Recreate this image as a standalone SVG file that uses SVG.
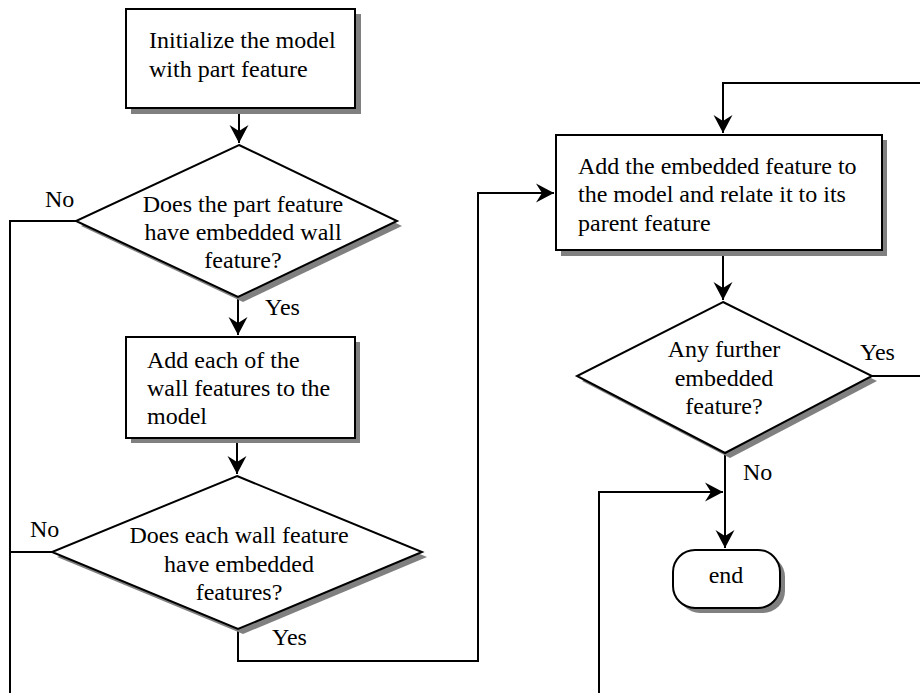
<svg xmlns="http://www.w3.org/2000/svg" width="920" height="693" viewBox="0 0 920 693">
<style>
  .shape { fill: #ffffff; stroke: #000000; stroke-width: 2; }
  .shadow { fill: #808080; stroke: none; }
  .conn { fill: none; stroke: #000000; stroke-width: 2; }
  text { font-family: 'Liberation Serif', 'Times New Roman', 'DejaVu Serif', serif; font-size: 24px; fill: #000000; }
  .mid { text-anchor: middle; }
</style>
<defs>
  <marker id="arrow" markerUnits="userSpaceOnUse" markerWidth="24" markerHeight="24" viewBox="-20 -12 22 24" refX="0" refY="0" orient="auto">
    <path d="M0,0 L-18,-9.5 L-12,0 L-18,9.5 Z" fill="#000000"/>
  </marker>
</defs>
<rect width="920" height="693" fill="#ffffff"/>

<g id="connectors">
  <path class="conn" d="M239,108 L239,143" marker-end="url(#arrow)"/>
  <path class="conn" d="M238,297 L238,335" marker-end="url(#arrow)"/>
  <path class="conn" d="M237,438 L237,474" marker-end="url(#arrow)"/>
  <path class="conn" d="M76,221 L10,221 L10,693"/>
  <path class="conn" d="M52,552 L10,552"/>
  <path class="conn" d="M238,629 L238,661 L478,661 L478,193 L554,193" marker-end="url(#arrow)"/>
  <path class="conn" d="M920,83 L723,83 L723,133" marker-end="url(#arrow)"/>
  <path class="conn" d="M723,250 L723,300" marker-end="url(#arrow)"/>
  <path class="conn" d="M872,376 L920,376"/>
  <path class="conn" d="M725,453 L725,548" marker-end="url(#arrow)"/>
  <path class="conn" d="M599,693 L599,492 L723,492" marker-end="url(#arrow)"/>
</g>

<g id="labels">
  <text x="45" y="207">No</text>
  <text x="265" y="315">Yes</text>
  <text x="30" y="537">No</text>
  <text x="272" y="645">Yes</text>
  <text x="860" y="360">Yes</text>
  <text x="743" y="480">No</text>
</g>

<g id="init">
  <rect class="shadow" x="131" y="14" width="230" height="100"/>
  <rect class="shape" x="126" y="9" width="229" height="99"/>
  <text x="149" y="48">Initialize the model</text>
  <text x="149" y="77">with part feature</text>
</g>

<g id="decision1">
  <polygon class="shadow" points="244,150 402,226 243,302 81,226"/>
  <polygon class="shape" points="239,145 397,221 238,297 76,221"/>
  <text class="mid" x="243" y="212">Does the part feature</text>
  <text class="mid" x="243" y="240">have embedded wall</text>
  <text class="mid" x="243" y="268">feature?</text>
</g>

<g id="addwalls">
  <rect class="shadow" x="131" y="342" width="229" height="101"/>
  <rect class="shape" x="126" y="337" width="229" height="101"/>
  <text x="147" y="368">Add each of the</text>
  <text x="147" y="396">wall features to the</text>
  <text x="147" y="424">model</text>
</g>

<g id="decision2">
  <polygon class="shadow" points="242,481 427,557 243,634 57,557"/>
  <polygon class="shape" points="237,476 422,552 238,629 52,552"/>
  <text class="mid" x="239" y="543">Does each wall feature</text>
  <text class="mid" x="239" y="572">have embedded</text>
  <text class="mid" x="239" y="600">features?</text>
</g>

<g id="addembedded">
  <rect class="shadow" x="561" y="140" width="326" height="116"/>
  <rect class="shape" x="556" y="135" width="326" height="115"/>
  <text x="578" y="174">Add the embedded feature to</text>
  <text x="578" y="202">the model and relate it to its</text>
  <text x="578" y="231">parent feature</text>
</g>

<g id="decision3">
  <polygon class="shadow" points="728,307 877,381 730,458 582,381"/>
  <polygon class="shape" points="723,302 872,376 725,453 577,376"/>
  <text class="mid" x="724" y="357">Any further</text>
  <text class="mid" x="724" y="386">embedded</text>
  <text class="mid" x="724" y="414">feature?</text>
</g>

<g id="end">
  <rect class="shadow" x="678" y="555" width="107" height="58" rx="22" ry="22"/>
  <rect class="shape" x="673" y="550" width="107" height="58" rx="22" ry="22"/>
  <text class="mid" x="726" y="583">end</text>
</g>
</svg>
